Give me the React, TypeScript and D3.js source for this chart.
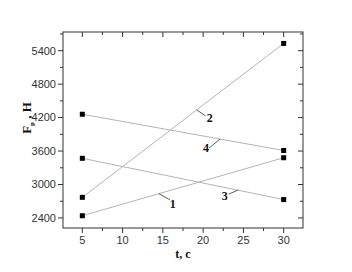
import React from "react";
import * as d3 from "d3";

const times = [5, 30];
const series1 = [2440, 3480];
const series2 = [2770, 5530];
const series3 = [3470, 2730];
const series4 = [4260, 3610];
const seriesNames = ["1", "2", "3", "4"];
const xTicks = [5, 10, 15, 20, 25, 30];
const yTicks = [2400, 3000, 3600, 4200, 4800, 5400];

// label anchors: t on line where leader starts
const labelT = [14.5, 19.2, 24.3, 22.1];

export default function App() {
  const W = 352, H = 272;
  const left = 63, right = 303, top = 32, bottom = 228;
  const x = d3.scaleLinear().domain([2.6, 32.4]).range([left, right]);
  const y = d3.scaleLinear().domain([2220, 5735]).range([bottom, top]);
  const all = [series1, series2, series3, series4];
  const line = d3.line<number>().x((_, i) => x(times[i])).y((d) => y(d));
  const minorX = d3.range(2.5, 32.5, 2.5).filter((v) => v >= 2.6);
  const minorY = d3.range(2400, 5701, 300);
  const interp = (s: number[], t: number) => s[0] + ((s[1] - s[0]) * (t - times[0])) / (times[1] - times[0]);
  const offsets = [
    [11, 6, 14, 12],
    [9, 6, 13, 9],
    [-9, 4, -13, 7],
    [-11, 9, -14, 10],
  ];
  return (
    <svg width={W} height={H} style={{ position: "absolute", left: 0, top: 0 }}>
      <rect width={W} height={H} fill="#fff" />
      {all.map((s, i) => (
        <path key={i} d={line(s) || ""} fill="none" stroke="#b4b4b4" strokeWidth={1} />
      ))}
      {all.map((s, i) =>
        s.map((v, j) => (
          <rect key={i + "-" + j} x={x(times[j]) - 2.5} y={y(v) - 2.5} width={5} height={5} fill="#000" />
        ))
      )}
      {all.map((s, i) => {
        const px = x(labelT[i]);
        const py = y(interp(s, labelT[i]));
        const o = offsets[i];
        return (
          <g key={"l" + i}>
            <line x1={px} y1={py} x2={px + o[0]} y2={py + o[1]} stroke="#333" strokeWidth={0.8} />
            <text x={px + o[2]} y={py + o[3]} fontFamily="'Liberation Serif', serif" fontWeight="bold" fontSize={12} textAnchor="middle" dominantBaseline="middle" fill="#111">
              {seriesNames[i]}
            </text>
          </g>
        );
      })}
      <rect x={left} y={top} width={right - left} height={bottom - top} fill="none" stroke="#333" strokeWidth={1} />
      {minorX.map((v) => {
        const major = xTicks.includes(v);
        const len = major ? 5 : 3;
        return (
          <g key={"x" + v}>
            <line x1={x(v)} x2={x(v)} y1={bottom} y2={bottom + len} stroke="#333" />
            <line x1={x(v)} x2={x(v)} y1={top} y2={top + len} stroke="#333" />
          </g>
        );
      })}
      {minorY.map((v) => {
        const major = yTicks.includes(v);
        const len = major ? 5 : 3;
        return (
          <g key={"y" + v}>
            <line x1={left - len} x2={left} y1={y(v)} y2={y(v)} stroke="#333" />
            <line x1={right - len} x2={right} y1={y(v)} y2={y(v)} stroke="#333" />
          </g>
        );
      })}
      {xTicks.map((v) => (
        <text key={"xt" + v} x={x(v)} y={bottom + 16} fontFamily="'Liberation Sans', Arial, sans-serif" fontSize={11} textAnchor="middle" fill="#333">
          {v}
        </text>
      ))}
      {yTicks.map((v) => (
        <text key={"yt" + v} x={left - 7} y={y(v)} dy="0.35em" fontFamily="'Liberation Sans', Arial, sans-serif" fontSize={11} textAnchor="end" fill="#333">
          {v}
        </text>
      ))}
      <text x={(left + right) / 2} y={258} fontFamily="'Liberation Serif', serif" fontWeight="bold" fontSize={12} textAnchor="middle" fill="#111">
        t, c
      </text>
      <text transform={`translate(31, 118) rotate(-90)`} fontFamily="'Liberation Serif', serif" fontWeight="bold" fontSize={13} textAnchor="middle" fill="#111">
        F<tspan fontSize={7} dy={3}>p</tspan><tspan dy={-3}> , H</tspan>
      </text>
    </svg>
  );
}
